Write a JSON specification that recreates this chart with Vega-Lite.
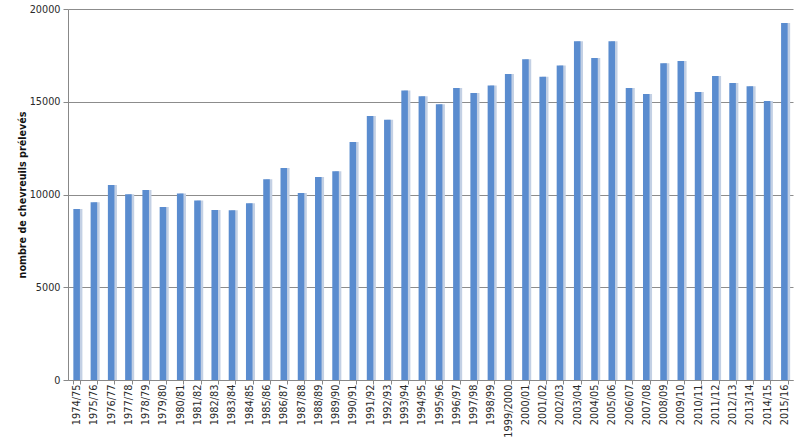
{
  "$schema": "https://vega.github.io/schema/vega-lite/v6.json",
  "width": 725,
  "height": 371,
  "autosize": {"type": "none"},
  "padding": {"left": 68, "top": 9, "right": 7, "bottom": 65},
  "background": "white",
  "data": {"values": [
    {"saison": "1974/75", "n": 9220},
    {"saison": "1975/76", "n": 9580},
    {"saison": "1976/77", "n": 10510},
    {"saison": "1977/78", "n": 10010},
    {"saison": "1978/79", "n": 10240},
    {"saison": "1979/80", "n": 9330},
    {"saison": "1980/81", "n": 10060},
    {"saison": "1981/82", "n": 9670},
    {"saison": "1982/83", "n": 9160},
    {"saison": "1983/84", "n": 9150},
    {"saison": "1984/85", "n": 9525},
    {"saison": "1985/86", "n": 10820},
    {"saison": "1986/87", "n": 11430},
    {"saison": "1987/88", "n": 10080},
    {"saison": "1988/89", "n": 10940},
    {"saison": "1989/90", "n": 11250},
    {"saison": "1990/91", "n": 12830},
    {"saison": "1991/92", "n": 14230},
    {"saison": "1992/93", "n": 14030},
    {"saison": "1993/94", "n": 15600},
    {"saison": "1994/95", "n": 15290},
    {"saison": "1995/96", "n": 14860},
    {"saison": "1996/97", "n": 15740},
    {"saison": "1997/98", "n": 15470},
    {"saison": "1998/99", "n": 15870},
    {"saison": "1999/2000", "n": 16500},
    {"saison": "2000/01", "n": 17290},
    {"saison": "2001/02", "n": 16350},
    {"saison": "2002/03", "n": 16960},
    {"saison": "2003/04", "n": 18260},
    {"saison": "2004/05", "n": 17360},
    {"saison": "2005/06", "n": 18260},
    {"saison": "2006/07", "n": 15740},
    {"saison": "2007/08", "n": 15420},
    {"saison": "2008/09", "n": 17070},
    {"saison": "2009/10", "n": 17200},
    {"saison": "2010/11", "n": 15530},
    {"saison": "2011/12", "n": 16390},
    {"saison": "2012/13", "n": 16010},
    {"saison": "2013/14", "n": 15830},
    {"saison": "2014/15", "n": 15040},
    {"saison": "2015/16", "n": 19250}
  ]},
  "encoding": {
    "x": {
      "field": "saison", "type": "nominal", "sort": null,
      "scale": {"paddingInner": 0.62, "paddingOuter": 0.31},
      "axis": {
        "title": null, "labelAngle": -90, "labelAlign": "right", "labelBaseline": "middle",
        "labelFont": "DejaVu Sans", "labelFontSize": 9.8, "labelColor": "#2a2a2a",
        "labelPadding": 0, "ticks": true, "tickSize": 4, "tickColor": "#888888",
        "tickBand": "extent",
        "domainColor": "#888888", "grid": false
      }
    },
    "y": {
      "field": "n", "type": "quantitative",
      "scale": {"domain": [0, 20000], "nice": false},
      "axis": {
        "title": "nombre de chevreuils prélevés",
        "titleFont": "DejaVu Sans", "titleFontSize": 9.6, "titleFontWeight": "bold",
        "titleColor": "#111111", "titlePadding": 2,
        "values": [0, 5000, 10000, 15000, 20000], "format": "d",
        "labelFont": "DejaVu Sans", "labelFontSize": 9.7, "labelColor": "#2a2a2a",
        "labelPadding": 3, "ticks": true, "tickSize": 5, "tickColor": "#888888",
        "grid": true, "gridColor": "#8c8c8c", "gridWidth": 1,
        "domainColor": "#888888"
      }
    }
  },
  "layer": [
    {"mark": {"type": "bar", "color": "#c3d0e4", "xOffset": 2.5}},
    {"mark": {"type": "bar", "color": "#5a8ccf"}}
  ],
  "config": {"view": {"stroke": null}}
}
